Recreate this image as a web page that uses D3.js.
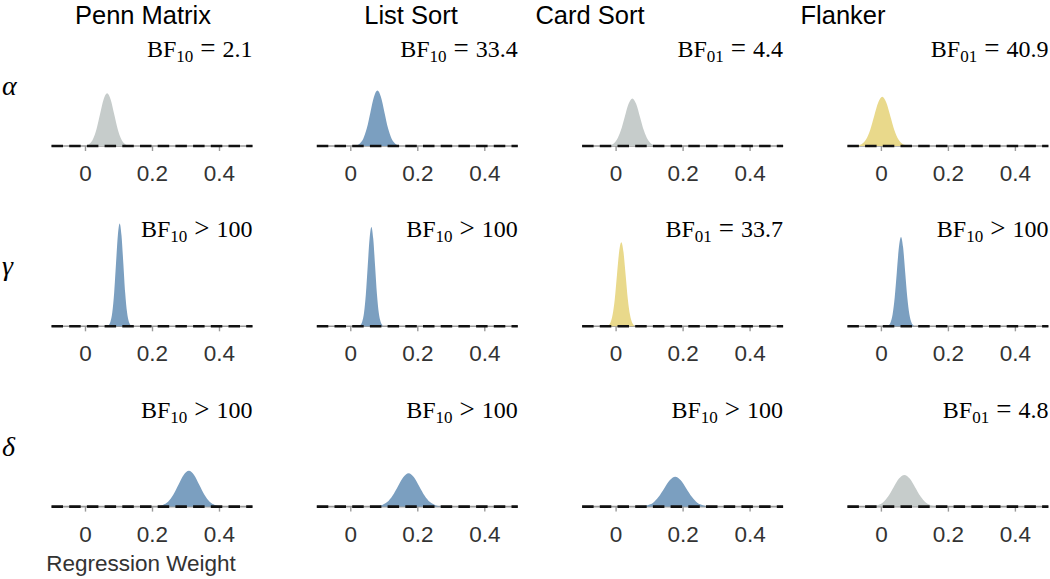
<!DOCTYPE html>
<html>
<head>
<meta charset="utf-8">
<script src="https://cdn.jsdelivr.net/npm/d3@7"></script>
<style>
  html, body { margin: 0; padding: 0; background: #fff; }
  svg { display: block; }
</style>
</head>
<body>
<script>
// ---------------- data ----------------
const tests = ["Penn Matrix", "List Sort", "Card Sort", "Flanker"];
const params = ["α", "γ", "δ"];
const xTicks = [0, 0.2, 0.4];
const tickLabels = ["0", "0.2", "0.4"];
const xDomain = [-0.1, 0.5];

// Bayes factor annotations per row (alpha, gamma, delta) x column
const bfSub = [["10", "10", "01", "01"], ["10", "10", "01", "10"], ["10", "10", "10", "01"]];
const bfOp  = [["=", "=", "=", "="], [">", ">", "=", ">"], [">", ">", ">", "="]];
const bfVal = [["2.1", "33.4", "4.4", "40.9"], ["100", "100", "33.7", "100"], ["100", "100", "100", "4.8"]];
// evidence category: h1 = evidence for effect, h0 = evidence for null, none = inconclusive
const evidence = [["none", "h1", "none", "h0"], ["h1", "h1", "h0", "h1"], ["h1", "h1", "h1", "none"]];

// posterior densities (weight, density)
const alphaX = [
  [0.003, 0.0135, 0.024, 0.0345, 0.045, 0.0555, 0.066, 0.0765, 0.087, 0.0975, 0.108, 0.1185, 0.129],
  [0.018, 0.0285, 0.039, 0.0495, 0.060, 0.0705, 0.081, 0.0915, 0.102, 0.1125, 0.123, 0.1335, 0.144],
  [-0.019, -0.0075, 0.004, 0.0155, 0.027, 0.0385, 0.05, 0.0615, 0.073, 0.0845, 0.096, 0.1075, 0.119],
  [-0.068, -0.056, -0.044, -0.032, -0.020, -0.008, 0.004, 0.016, 0.028, 0.040, 0.052, 0.064, 0.076]
];
const alphaY = [
  [0.2, 0.8, 2.5, 6.1, 11.4, 16.6, 18.8, 16.6, 11.4, 6.1, 2.5, 0.8, 0.2],
  [0.2, 0.9, 2.7, 6.4, 12.0, 17.5, 19.8, 17.5, 12.0, 6.4, 2.7, 0.9, 0.2],
  [0.2, 0.7, 2.3, 5.5, 10.3, 15.0, 17.0, 15.0, 10.3, 5.5, 2.3, 0.7, 0.2],
  [0.2, 0.8, 2.4, 5.7, 10.7, 15.5, 17.6, 15.5, 10.7, 5.7, 2.4, 0.8, 0.2]
];
const gammaX = [
  [0.0705, 0.076, 0.0815, 0.087, 0.0925, 0.098, 0.1035, 0.109, 0.1145, 0.120, 0.1255, 0.131, 0.1365],
  [0.030, 0.0355, 0.041, 0.0465, 0.052, 0.0575, 0.063, 0.0685, 0.074, 0.0795, 0.085, 0.0905, 0.096],
  [-0.022, -0.0155, -0.009, -0.0025, 0.004, 0.0105, 0.017, 0.0235, 0.030, 0.0365, 0.043, 0.0495, 0.056],
  [0.0225, 0.02875, 0.035, 0.04125, 0.0475, 0.05375, 0.06, 0.06625, 0.0725, 0.07875, 0.085, 0.09125, 0.0975]
];
const gammaY = [
  [0.4, 1.6, 5.0, 11.9, 22.3, 32.4, 36.7, 32.4, 22.3, 11.9, 5.0, 1.6, 0.4],
  [0.4, 1.6, 4.8, 11.5, 21.5, 31.3, 35.5, 31.3, 21.5, 11.5, 4.8, 1.6, 0.4],
  [0.3, 1.3, 4.1, 9.7, 18.2, 26.5, 30.0, 26.5, 18.2, 9.7, 4.1, 1.3, 0.3],
  [0.4, 1.4, 4.3, 10.4, 19.3, 28.2, 31.9, 28.2, 19.3, 10.4, 4.3, 1.4, 0.4]
];
const deltaX = [
  [0.217, 0.2325, 0.248, 0.2635, 0.279, 0.2945, 0.31, 0.3255, 0.341, 0.3565, 0.372, 0.3875, 0.403],
  [0.078, 0.094, 0.110, 0.126, 0.142, 0.158, 0.174, 0.190, 0.206, 0.222, 0.238, 0.254, 0.270],
  [0.079, 0.0955, 0.112, 0.1285, 0.145, 0.1615, 0.178, 0.1945, 0.211, 0.2275, 0.244, 0.2605, 0.277],
  [-0.026, -0.010, 0.006, 0.022, 0.038, 0.054, 0.070, 0.086, 0.102, 0.118, 0.134, 0.150, 0.166]
];
const deltaY = [
  [0.1, 0.6, 1.7, 4.2, 7.8, 11.3, 12.8, 11.3, 7.8, 4.2, 1.7, 0.6, 0.1],
  [0.1, 0.5, 1.6, 3.9, 7.2, 10.5, 11.9, 10.5, 7.2, 3.9, 1.6, 0.5, 0.1],
  [0.1, 0.5, 1.4, 3.5, 6.5, 9.4, 10.7, 9.4, 6.5, 3.5, 1.4, 0.5, 0.1],
  [0.1, 0.5, 1.5, 3.7, 6.9, 10.0, 11.3, 10.0, 6.9, 3.7, 1.5, 0.5, 0.1]
];
const densX = [alphaX, gammaX, deltaX];
const densY = [alphaY, gammaY, deltaY];

// ---------------- styling / layout ----------------
const W = 1050, H = 579;
const colors = { h1: "#7b9fc0", h0: "#e9d98b", none: "#c6cccb" };
const colLeft = 51.5, colStep = 265.3, panelW = 201;
const rowBase = 146, rowStep = 180.3;
const pxPerDensity = 2.8;
const titleCenters = [143, 411, 590, 843];
const sansFont = "'Liberation Sans', Arial, Helvetica, sans-serif";
const serifFont = "'Liberation Serif', 'Times New Roman', serif";

const svg = d3.select("body").append("svg")
  .attr("width", W).attr("height", H);

// column titles
tests.forEach((t, c) => {
  svg.append("text")
    .attr("x", titleCenters[c])
    .attr("y", 23.5)
    .attr("text-anchor", "middle")
    .attr("font-family", sansFont)
    .attr("font-size", 25.5)
    .attr("fill", "#000")
    .text(t);
});

// row labels
params.forEach((p, r) => {
  svg.append("text")
    .attr("x", 2)
    .attr("y", 95 + r * rowStep)
    .attr("font-family", serifFont)
    .attr("font-style", "italic")
    .attr("font-size", 28)
    .attr("fill", "#000")
    .text(p);
});

for (let r = 0; r < 3; r++) {
  for (let c = 0; c < 4; c++) {
    const x0 = colLeft + c * colStep;
    const base = rowBase + r * rowStep;
    const x = d3.scaleLinear().domain(xDomain).range([x0, x0 + panelW]);
    const y = d3.scaleLinear().domain([0, 40]).range([base, base - 40 * pxPerDensity]);
    const g = svg.append("g");

    // axis
    const axis = d3.axisBottom(x).tickValues(xTicks)
      .tickFormat((d, i) => tickLabels[i]).tickSize(5).tickPadding(14);
    const ag = g.append("g").attr("transform", `translate(0,${base})`).call(axis);
    ag.select(".domain").attr("stroke", "#9a9a9a").attr("stroke-width", 1.6)
      .attr("d", `M${x0},0H${x0 + panelW}`);
    ag.selectAll(".tick line").attr("stroke", "#9a9a9a").attr("stroke-width", 1.4);
    ag.selectAll(".tick text")
      .attr("font-family", sansFont).attr("font-size", 22.5).attr("fill", "#333");

    // density
    const pts = densX[r][c].map((v, i) => [v, densY[r][c][i]]);
    const area = d3.area().x(d => x(d[0])).y0(y(0)).y1(d => y(d[1]))
      .curve(d3.curveMonotoneX);
    g.append("path").datum(pts).attr("d", area)
      .attr("fill", colors[evidence[r][c]]).attr("stroke", "none");

    // dashed line at zero density
    g.append("line")
      .attr("x1", x(xDomain[0])).attr("x2", x(xDomain[1]))
      .attr("y1", y(0)).attr("y2", y(0))
      .attr("stroke", "#111").attr("stroke-width", 2.6)
      .attr("stroke-dasharray", "11.5,6.2");

    // Bayes factor label
    const t = g.append("text")
      .attr("x", x0 + panelW)
      .attr("y", base - 89)
      .attr("text-anchor", "end")
      .attr("font-family", serifFont)
      .attr("font-size", 24)
      .attr("fill", "#000");
    t.append("tspan").text("BF");
    t.append("tspan").attr("dy", 5).attr("font-size", 17).text(bfSub[r][c]);
    t.append("tspan").attr("dy", -5).attr("dx", 7).attr("font-size", 27).text(bfOp[r][c]);
    t.append("tspan").attr("dx", 7).text(bfVal[r][c]);
  }
}

// x-axis title
svg.append("text")
  .attr("x", 141)
  .attr("y", 571)
  .attr("text-anchor", "middle")
  .attr("font-family", sansFont)
  .attr("font-size", 22.5)
  .attr("fill", "#333")
  .text("Regression Weight");
</script>
</body>
</html>
